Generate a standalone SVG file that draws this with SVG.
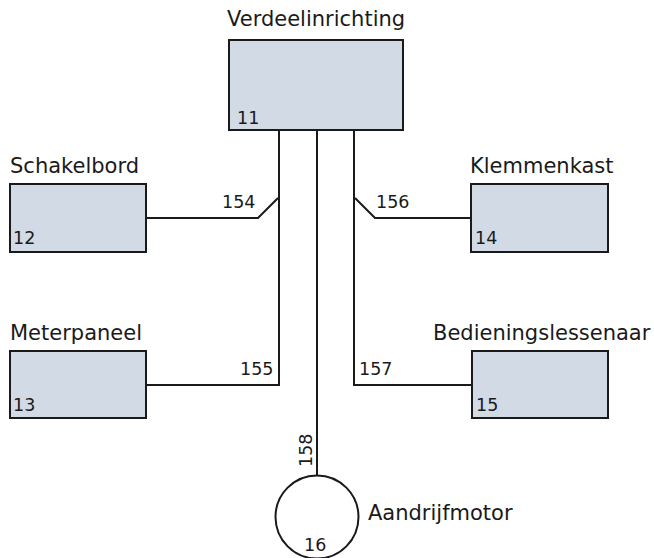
<svg xmlns="http://www.w3.org/2000/svg" width="654" height="558" viewBox="0 0 654 558">
<style>
text{font-family:"DejaVu Sans",Verdana,sans-serif;font-size:17.5px;fill:#1a1a1a}
text.name{font-size:21px}
.box{fill:#d2dae6;stroke:#1a1a1a;stroke-width:2}
.wire{fill:none;stroke:#1a1a1a;stroke-width:2}
</style>
<rect width="654" height="558" fill="#ffffff"/>
<g id="connectors">
<polyline class="wire" points="146,218 258,218 278,198"/>
<polyline class="wire" points="279,130 279,385 146,385"/>
<polyline class="wire" points="471,218 375,218 355,198"/>
<polyline class="wire" points="354,130 354,385 472,385"/>
<line class="wire" x1="317" y1="130" x2="317" y2="476"/>
<text x="222" y="208">154</text>
<text x="240" y="375">155</text>
<text x="376" y="208">156</text>
<text x="359" y="375">157</text>
<text transform="translate(312,467) rotate(-90)">158</text>
</g>
<g id="n11">
<rect class="box" x="229" y="40" width="174" height="90"/>
<text class="name" x="227" y="26">Verdeelinrichting</text>
<text x="237" y="124">11</text>
</g>
<g id="n12">
<rect class="box" x="10" y="184" width="136" height="68"/>
<text class="name" x="10" y="173">Schakelbord</text>
<text x="13" y="244">12</text>
</g>
<g id="n13">
<rect class="box" x="10" y="351" width="136" height="67"/>
<text class="name" x="10" y="340">Meterpaneel</text>
<text x="13" y="411">13</text>
</g>
<g id="n14">
<rect class="box" x="471" y="184" width="137" height="68"/>
<text class="name" x="470" y="173">Klemmenkast</text>
<text x="475" y="244">14</text>
</g>
<g id="n15">
<rect class="box" x="472" y="351" width="136" height="67"/>
<text class="name" x="433" y="340">Bedieningslessenaar</text>
<text x="476" y="411">15</text>
</g>
<g id="n16">
<circle cx="317" cy="517" r="41.5" fill="#ffffff" stroke="#1a1a1a" stroke-width="2"/>
<text class="name" x="368" y="520">Aandrijfmotor</text>
<text x="304" y="551">16</text>
</g>
</svg>
